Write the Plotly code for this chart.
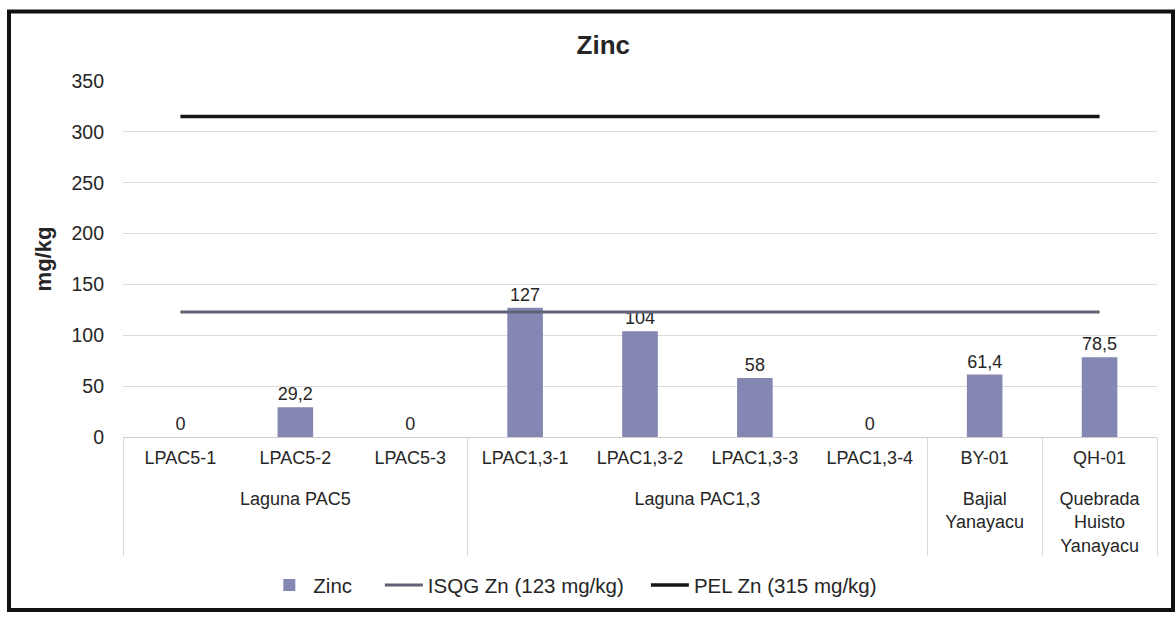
import plotly.graph_objects as go

# Sampling points grouped by water body (leading break leaves a gap under the station row)
groups = ["<br>Laguna PAC5", "<br>Laguna PAC5", "<br>Laguna PAC5",
          "<br>Laguna PAC1,3", "<br>Laguna PAC1,3", "<br>Laguna PAC1,3", "<br>Laguna PAC1,3",
          "<br>Bajial<br>Yanayacu", "<br>Quebrada<br>Huisto<br>Yanayacu"]
stations = ["LPAC5-1", "LPAC5-2", "LPAC5-3",
            "LPAC1,3-1", "LPAC1,3-2", "LPAC1,3-3", "LPAC1,3-4",
            "BY-01", "QH-01"]

# Zinc concentration in sediment (mg/kg)
zinc = [0, 29.2, 0, 127, 104, 58, 0, 61.4, 78.5]

# Sediment quality guidelines (mg/kg)
isqg = [123, 123, 123, 123, 123, 123, 123, 123, 123]
pel = [315, 315, 315, 315, 315, 315, 315, 315, 315]

FONT = "Liberation Sans, Arial, sans-serif"
TXT = "#262626"
NB = "\u00a0"  # non-breaking space used to widen legend entries

x = [groups, stations]
labels = [f"{v:g}".replace(".", ",") for v in zinc]

fig = go.Figure()
fig.add_trace(go.Bar(
    x=x, y=zinc, name="Zinc" + NB * 4,
    marker=dict(color="#8587b3", line=dict(width=0)),
    text=labels, textposition="outside", cliponaxis=False,
    textfont=dict(family=FONT, size=18, color=TXT),
))
fig.add_trace(go.Scatter(
    x=x, y=isqg, mode="lines", name="ISQG Zn (123 mg/kg)" + NB * 3,
    line=dict(color="#5f6275", width=3),
))
fig.add_trace(go.Scatter(
    x=x, y=pel, mode="lines", name="PEL Zn (315 mg/kg)",
    line=dict(color="#151515", width=3.5),
))

fig.update_layout(
    width=1176, height=617,
    margin=dict(l=123, r=19, t=81, b=178),
    paper_bgcolor="white", plot_bgcolor="white",
    bargap=0.69,
    font=dict(family=FONT, size=18, color=TXT),
    title=dict(text="<b>Zinc</b>", x=0.513, xanchor="center",
               y=1 - 45 / 617, yanchor="middle",
               font=dict(family=FONT, size=26, color=TXT)),
    showlegend=True,
    legend=dict(orientation="h", x=0.436, xanchor="center",
                y=-0.416, yanchor="middle",
                font=dict(family=FONT, size=20.5, color=TXT),
                traceorder="normal", itemwidth=38),
    shapes=[dict(type="rect", xref="paper", yref="paper",
                 x0=(9 - 123) / 1034, x1=(1173 - 123) / 1034,
                 y0=(439 - 613) / 358, y1=(439 - 11) / 358,
                 line=dict(color="#111111", width=4))],
)

fig.update_yaxes(
    range=[0, 350], dtick=50, showgrid=True, gridcolor="#dadada",
    gridwidth=1, zeroline=False, showline=False, automargin=False,
    ticklabelstandoff=18,
    tickfont=dict(family=FONT, size=19.5, color=TXT),
    title=dict(text="<b>mg/kg</b>", standoff=13,
               font=dict(family=FONT, size=22, color=TXT)),
)
fig.update_xaxes(
    type="multicategory", showline=True, linecolor="#cfcfcf", linewidth=1,
    showgrid=False, ticks="", ticklabelstandoff=4, automargin=False,
    showdividers=True, dividercolor="#d9d9d9", dividerwidth=1,
    tickfont=dict(family=FONT, size=18, color=TXT),
)

fig.write_html("out.html")
